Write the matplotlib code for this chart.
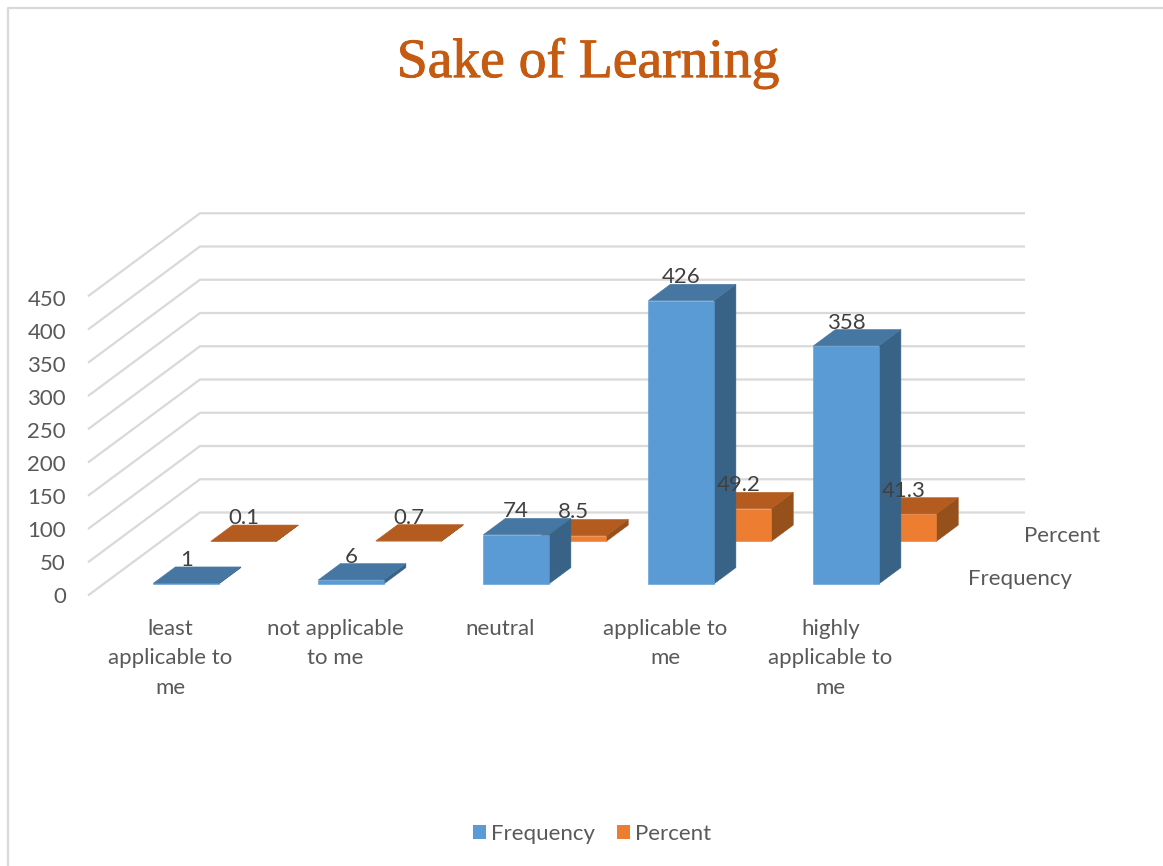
import matplotlib
matplotlib.use("Agg")
import matplotlib.pyplot as plt
import matplotlib.patheffects as pe
from matplotlib.patches import Patch

categories = ["least\napplicable to\nme", "not applicable\nto me", "neutral",
              "applicable to\nme", "highly\napplicable to\nme"]
frequency = [1, 6, 74, 426, 358]
percent = [0.1, 0.7, 8.5, 49.2, 41.3]
freq_labels = ["1", "6", "74", "426", "358"]
pct_labels = ["0.1", "0.7", "8.5", "49.2", "41.3"]
value_ticks = [0, 50, 100, 150, 200, 250, 300, 350, 400, 450]
series_names = ["Frequency", "Percent"]
title_text = "Sake of Learning"

W, H = 1163, 866
FONT = ["Lato", "DejaVu Sans"]
TXT = "#595959"
LBL = "#404040"
FS = 16

# oblique projection of (category, value, depth) onto figure pixels
X0, Y0 = 88.0, 595.5       # front floor corner
CAT_W = 165.0              # px per category
V_SCALE = 0.665            # px per value unit
DEPTH_DX, DEPTH_DY = 112.0, -83.0
BAR_W = 0.397              # in categories
D_WIDTH = 0.196            # bar depth
D_FREQ = 0.14              # start depth of series
D_PCT = 0.652


def proj(c, v, d):
    return (X0 + c * CAT_W + d * DEPTH_DX, Y0 - v * V_SCALE + d * DEPTH_DY)


fig = plt.figure(figsize=(W / 100, H / 100), dpi=100, facecolor="white")
ax = fig.add_axes([0, 0, 1, 1])
ax.set_xlim(0, W)
ax.set_ylim(H, 0)
ax.axis("off")

# chart frame
ax.plot([8, 8, W], [H, 8, 8], color="#d9d9d9", lw=1.6, zorder=1)

# gridlines
n = len(categories)
for v in value_ticks:
    pts = [proj(0, v, 0), proj(0, v, 1), proj(n, v, 1)]
    ax.plot([p[0] for p in pts], [p[1] for p in pts], color="#d9d9d9", lw=1.6,
            zorder=1, solid_capstyle="butt", solid_joinstyle="miter")
    fx, fy = proj(0, v, 0)
    ax.text(fx - 22, fy + 1.5 + 0.0055 * v, str(v), ha="right", va="center", fontsize=FS,
            family=FONT, color=TXT)


def bar(c, v, d0, colors, z):
    front, top, side = colors
    c0, c1 = c + 0.5 - BAR_W / 2, c + 0.5 + BAR_W / 2
    d1 = d0 + D_WIDTH
    faces = [
        ([proj(c1, 0, d0), proj(c1, 0, d1), proj(c1, v, d1), proj(c1, v, d0)], side),
        ([proj(c0, 0, d0), proj(c1, 0, d0), proj(c1, v, d0), proj(c0, v, d0)], front),
        ([proj(c0, v, d0), proj(c1, v, d0), proj(c1, v, d1), proj(c0, v, d1)], top),
    ]
    for poly, col in faces:
        ax.fill([p[0] for p in poly], [p[1] for p in poly], facecolor=col,
                edgecolor=col, lw=0.4, zorder=z)


BLUE = ("#5B9BD5", "#4676A2", "#386387")
ORANGE = ("#ED7D31", "#B45C20", "#96501C")

for i, v in enumerate(percent):
    bar(i, v, D_PCT, ORANGE, 3)
for i, v in enumerate(frequency):
    bar(i, v, D_FREQ, BLUE, 4)

# data labels
for i in range(n):
    for v, d, s in ((percent[i], D_PCT, pct_labels[i]), (frequency[i], D_FREQ, freq_labels[i])):
        x, y = proj(i + 0.5, v, d + D_WIDTH)
        fx, _ = proj(i + 0.5, v, d)
        ax.text(fx, y - 7, s, ha="center", va="center", fontsize=FS,
                family=FONT, color=LBL, zorder=6)

# category labels
for i, s in enumerate(categories):
    x, _ = proj(i + 0.5, 0, 0)
    ax.text(x, 619, s, ha="center", va="top", fontsize=FS, family=FONT,
            color=TXT, linespacing=1.58)

# depth axis series labels
x, y = proj(n, 0, D_FREQ + D_WIDTH / 2)
ax.text(x + 28, y + 3, series_names[0], ha="left", va="center", fontsize=FS, family=FONT, color=TXT)
x, y = proj(n, 0, D_PCT + D_WIDTH / 2)
ax.text(x + 27, y + 2.5, series_names[1], ha="left", va="center", fontsize=FS, family=FONT, color=TXT)

# title
ax.text(588, 63, title_text, ha="center", va="center", fontsize=40,
        family=["Liberation Serif"], color="#C55A11",
        path_effects=[pe.withStroke(linewidth=0.7, foreground="#C55A11")])

# legend
handles = [Patch(facecolor=BLUE[0], label=series_names[0]),
           Patch(facecolor=ORANGE[0], label=series_names[1])]
leg = ax.legend(handles=handles, ncol=2, loc="center", bbox_to_anchor=(592 / W, 1 - 834 / H),
                frameon=False, handlelength=0.6, handleheight=0.6,
                handletextpad=0.22, columnspacing=1.0, borderpad=0,
                prop={"family": FONT, "size": FS})
for t in leg.get_texts():
    t.set_color(TXT)

fig.savefig("out.png", dpi=100, facecolor="white")
